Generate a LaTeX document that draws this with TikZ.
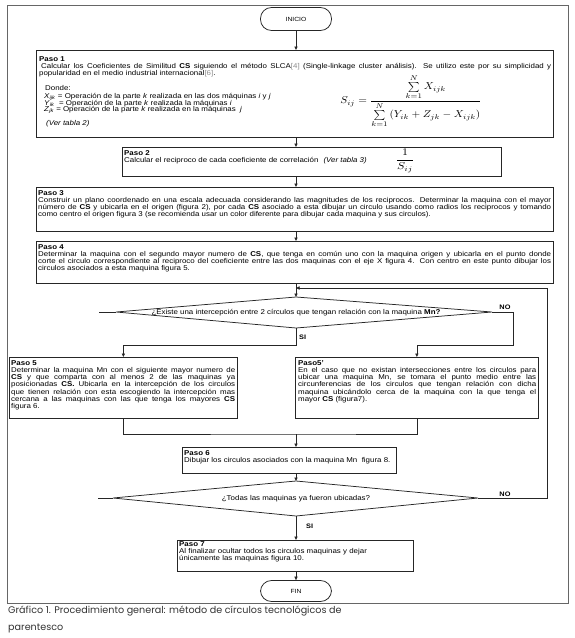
\documentclass[tikz,border=0pt]{standalone}
\usepackage{fontspec}
\usepackage{graphicx}
\setmainfont{Liberation Sans}[FakeStretch=1.13]
\newfontfamily\capfont{Poppins}
\usetikzlibrary{arrows.meta}
\tikzset{
  frame/.style={draw=black!60, line width=0.8pt},
  stepbox/.style={draw=black!85, line width=0.75pt, anchor=north west, inner sep=0pt},
  txt/.style={anchor=north west, inner sep=0pt, font=\fontsize{7}{7.3}\selectfont, align=justify,
     execute at begin node={\parindent=0pt\tolerance=10000\hbadness=10000}},
  ltxt/.style={txt, align=left},
  conn/.style={draw=black!85, line width=0.5pt},
  arr/.style={conn, -{Triangle[length=3.5pt,width=3.2pt]}},
  term/.style={draw=black!85, line width=0.75pt, rounded corners=11pt, minimum width=71pt, minimum height=23pt, inner sep=0pt, font=\fontsize{6}{6}\selectfont},
  dia/.style={draw=black!85, line width=0.75pt},
  lbl/.style={inner sep=0pt, font=\fontsize{6.5}{6.5}\selectfont\bfseries},
}
\newcommand{\refc}[1]{\textcolor{black!45}{#1}}
\begin{document}
\begin{tikzpicture}[x=1pt,y=-1pt]
\useasboundingbox (0,0) rectangle (575,638);
\draw[frame] (7,5) rectangle (568,603);
\coordinate (ax) at (296,0);

% terminals
\node[term] (ini) at (296,19) {INICIO};
\node[term, minimum height=21pt] (fin) at (296,591) {FIN};

% Paso 1
\node[stepbox, minimum width=517pt, minimum height=87pt] (p1) at (36,50) {};
\node[txt, text width=512pt] (t1a) at (39,56) {\textbf{Paso 1}\\
\hspace*{2pt}Calcular los Coeficientes de Similitud \textbf{CS} siguiendo el método SLCA\refc{[4]} (Single-linkage cluster análisis). Se utilizo este por su simplicidad y\linebreak
popularidad en el medio industrial internacional\refc{[6]}.};
\node[ltxt] (t1b) at (44,85) {\hspace*{1pt}Donde:\\[0.5pt]
\textit{X}\textsubscript{\textit{ijk}} = Operación de la parte \textit{k} realizada en las dos máquinas \textit{i} y \textit{j}\\[-1.2pt]
\textit{Y}\textsubscript{\textit{ik}}\ \ = Operación de la parte \textit{k} realizada la máquinas \textit{i}\\[-1.2pt]
\textit{Z}\textsubscript{\textit{jk}} = Operación de la parte \textit{k} realizada en la máquinas\ \ \textit{j}\\[6pt]
\hspace*{2pt}\textit{(Ver tabla 2)}};
\node[inner sep=0pt] (f1) at (411,101) {\scalebox{1.12}[1]{\fontsize{10}{12}\selectfont$\displaystyle S_{ij}=\frac{\sum\limits_{k=1}^{N}X_{ijk}}{\sum\limits_{k=1}^{N}\left(Y_{ik}+Z_{jk}-X_{ijk}\right)}$}};

% Paso 2
\node[stepbox, minimum width=379pt, minimum height=29pt] (p2) at (122,147) {};
\node[ltxt] (t2) at (124,150) {\textbf{Paso 2}\\
Calcular el reciproco de cada coeficiente de correlación\hspace{5pt}\textit{(Ver tabla 3)}};
\node[inner sep=0pt] (f2) at (405,161) {\scalebox{1.2}[1]{\fontsize{10}{12}\selectfont$\displaystyle\frac{1}{S_{ij}}$}};

% Paso 3
\node[stepbox, minimum width=517pt, minimum height=44pt] (p3) at (36,187) {};
\node[txt, text width=513pt] (t3) at (38,190) {\textbf{Paso 3}\\
Construir un plano coordenado en una escala adecuada considerando las magnitudes de los reciprocos. Determinar la maquina con el mayor\linebreak
número de \textbf{CS} y ubicarla en el origen (figura 2), por cada \textbf{CS} asociado a esta dibujar un circulo usando como radios los reciprocos y tomando\linebreak
como centro el origen figura 3 (se recomienda usar un color diferente para dibujar cada maquina y sus circulos).};

% Paso 4
\node[stepbox, minimum width=517pt, minimum height=42pt] (p4) at (36,241) {};
\node[txt, text width=513pt] (t4) at (38,244) {\textbf{Paso 4}\\
Determinar la maquina con el segundo mayor numero de \textbf{CS}, que tenga en común uno con la maquina origen y ubicarla en el punto donde\linebreak
corte el circulo correspondiente al reciproco del coeficiente entre las dos maquinas con el eje X figura 4. Con centro en este punto dibujar los\linebreak
circulos asociados a esta maquina figura 5.};

% Diamond 1
\coordinate (d1t) at (296,297);
\coordinate (d1r) at (492,312);
\coordinate (d1b) at (296,328);
\coordinate (d1l) at (116,312);
\coordinate (d1s) at (99,312);
\draw[dia] (d1t) -- (d1r) -- (d1b) -- (d1l) -- cycle;
\draw[conn] (d1l) -- (d1s);
\node[inner sep=0pt, font=\fontsize{7}{7}\selectfont] (d1) at (296,312.5) {¿Existe una intercepción entre 2 círculos que tengan relación con la maquina \textbf{Mn?}};
\node[lbl] (no1) at (505,307) {NO};
\node[lbl, anchor=west] (si1) at (299,337) {SI};

% Paso 5 and 5'
\node[stepbox, minimum width=228pt, minimum height=61pt] (p5a) at (9,357) {};
\node[txt, text width=224pt] (t5a) at (11,360) {\textbf{Paso 5}\\
Determinar la maquina Mn con el siguiente mayor numero de\linebreak
\textbf{CS} y que comparta con al menos 2 de las maquinas ya\linebreak
posicionadas \textbf{CS.} Ubicarla en la intercepción de los circulos\linebreak
que tienen relación con esta escogiendo la intercepción mas\linebreak
cercana a las maquinas con las que tenga los mayores \textbf{CS}\linebreak
figura 6.};
\node[stepbox, minimum width=243pt, minimum height=61pt] (p5b) at (295,357) {};
\node[txt, text width=238pt] (t5b) at (298,360) {\textbf{Paso5'}\\
En el caso que no existan intersecciones entre los circulos para\linebreak
ubicar una maquina Mn, se tomara el punto medio entre las\linebreak
circunferencias de los circulos que tengan relación con dicha\linebreak
maquina ubicándolo cerca de la maquina con la que tenga el\linebreak
mayor \textbf{CS} (figura7).};

\coordinate (nx) at (513,345);
\coordinate (mj) at (296,434);
\draw[arr] (d1r) -| (nx) -| (p5b.north);
\draw[arr] (d1b) -- (d1b |- nx) -| (p5a.north);
\draw[conn] (p5a.south) |- (mj) -| (p5b.south);

% Paso 6
\node[stepbox, minimum width=214pt, minimum height=26pt] (p6) at (182,447) {};
\node[ltxt] (t6) at (184,450) {\textbf{Paso 6}\\
Dibujar los circulos asociados con la maquina Mn\ \ figura 8.};
\draw[arr] (mj) -- (ax |- p6.north);

% Diamond 2
\coordinate (d2t) at (296,481);
\coordinate (d2r) at (478,498);
\coordinate (d2b) at (296,516);
\coordinate (d2l) at (113,498);
\coordinate (d2s) at (98,498);
\draw[dia] (d2t) -- (d2r) -- (d2b) -- (d2l) -- cycle;
\draw[conn] (d2l) -- (d2s);
\node[inner sep=0pt, font=\fontsize{7}{7}\selectfont] (d2) at (296,499) {¿Todas las maquinas ya fueron ubicadas?};
\node[lbl] (no2) at (505,494) {NO};
\node[lbl, anchor=west] (si2) at (306,526) {SI};
\draw[arr] (ax |- p6.south) -- (d2t);

% loop back
\coordinate (rx) at (547,288);
\coordinate (lp) at (296,288);
\draw[arr] (d2r) -- (rx |- d2r) -- (rx) -- (lp);
\draw[arr] (ax |- p4.south) -- (d1t);

% Paso 7
\node[stepbox, minimum width=236pt, minimum height=31pt] (p7) at (177,540) {};
\node[ltxt] (t7) at (179,541) {\textbf{Paso 7}\\
Al finalizar ocultar todos los circulos maquinas y dejar\\
únicamente las maquinas figura 10.};
\draw[arr] (d2b) -- (ax |- p7.north);
\draw[arr] (ax |- p7.south) -- (fin.north);

% main arrows
\draw[arr] (ini.south) -- (ax |- p1.north);
\draw[arr] (ax |- p1.south) -- (ax |- p2.north);
\draw[arr] (ax |- p2.south) -- (ax |- p3.north);
\draw[arr] (ax |- p3.south) -- (ax |- p4.north);

% caption
\node[anchor=north west, inner sep=0pt, align=left, text=black!80, font=\capfont\fontsize{9.6}{16.5}\selectfont] (cap) at (8,606) {Gráfico 1. Procedimiento general: método de círculos tecnológicos de\\parentesco};
\end{tikzpicture}
\end{document}
